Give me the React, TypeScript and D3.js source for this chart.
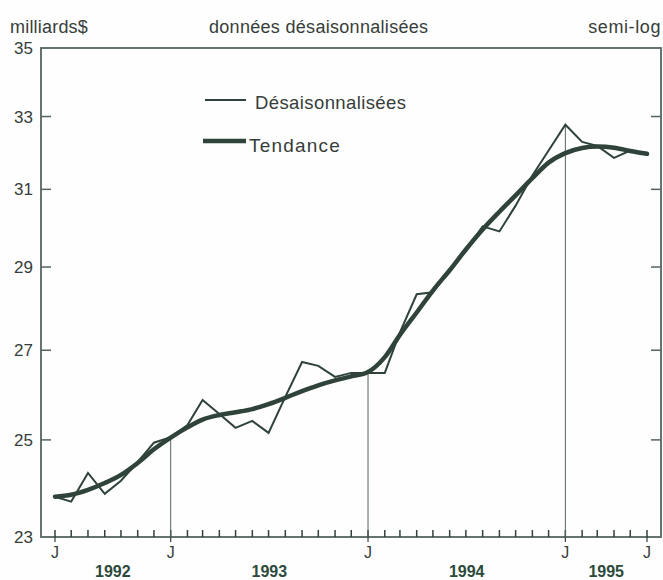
import React from "react";
import * as d3 from "d3";

// Monthly, June 1992 to June 1995
const startMonth = new Date(1992, 5, 1);
const endMonth = new Date(1995, 5, 1);
const months = d3.timeMonth.range(startMonth, d3.timeMonth.offset(endMonth, 1));

const desaisonnalisees = [
  23.81, 23.71, 24.3, 23.87, 24.14, 24.53, 24.94,
  25.06, 25.32, 25.87, 25.56, 25.26, 25.41, 25.15, 25.94, 26.73, 26.64, 26.39, 26.48,
  26.48, 26.48, 27.42, 28.33, 28.38, 28.92, 29.42, 30.03, 29.9, 30.57, 31.37, 32.05,
  32.77, 32.29, 32.18, 31.85, 32.05, 31.96,
];

const tendance = [
  23.81, 23.85, 23.95, 24.09, 24.26, 24.51, 24.8,
  25.05, 25.27, 25.44, 25.54, 25.6, 25.67, 25.78, 25.92, 26.07, 26.2, 26.31, 26.4,
  26.5, 26.84, 27.36, 27.89, 28.42, 28.92, 29.44, 29.95, 30.41, 30.84, 31.3, 31.72,
  31.98, 32.12, 32.16, 32.13, 32.04, 31.96,
];

const yTicks = [23, 25, 27, 29, 31, 33, 35];
const xLabelDates = [
  new Date(1992, 5, 1),
  new Date(1993, 0, 1),
  new Date(1994, 0, 1),
  new Date(1995, 0, 1),
  new Date(1995, 5, 1),
];
const xLabels = ["J", "J", "J", "J", "J"];
const yearSepDates = [new Date(1993, 0, 1), new Date(1994, 0, 1), new Date(1995, 0, 1)];
const years = ["1992", "1993", "1994", "1995"];
const yearSpans: [Date, Date][] = [
  [new Date(1992, 5, 1), new Date(1993, 0, 1)],
  [new Date(1993, 0, 1), new Date(1994, 0, 1)],
  [new Date(1994, 0, 1), new Date(1995, 0, 1)],
  [new Date(1995, 0, 1), new Date(1995, 5, 1)],
];

const W = 663;
const H = 580;
const left = 41;
const right = 661;
const top = 48;
const bottom = 537;

const FONT = "'Liberation Sans', Arial, Helvetica, sans-serif";
const INK = "#2f433a";
const TEXT = "#373d3a";
const FRAME = "#55655d";

export default function App() {
  const x = d3.scaleTime().domain([startMonth, endMonth]).range([55, 647]);
  const y = d3.scaleLog().domain([23, 35]).range([bottom, top]);

  const thinLine = d3
    .line<number>()
    .x((_, i) => x(months[i]))
    .y((d) => y(d))
    .curve(d3.curveLinear);
  const thickLine = d3
    .line<number>()
    .x((_, i) => x(months[i]))
    .y((d) => y(d))
    .curve(d3.curveMonotoneX);

  const valueAt = (dt: Date) => {
    const idx = months.findIndex((m) => m.getTime() === dt.getTime());
    return desaisonnalisees[idx];
  };

  return (
    <svg
      width={W}
      height={H}
      style={{ position: "absolute", left: 0, top: 0, background: "#fdfefd" }}
      fontFamily={FONT}
    >
      {/* header texts */}
      <text x={10} y={33} fontSize={18} letterSpacing={0.2} fill={TEXT}>milliards$</text>
      <text x={209} y={33} fontSize={18} letterSpacing={0.3} fill={TEXT}>données désaisonnalisées</text>
      <text x={661} y={33} fontSize={18} letterSpacing={0.6} fill={TEXT} textAnchor="end">semi-log</text>

      {/* frame */}
      <rect x={left} y={top} width={right - left} height={bottom - top} fill="none" stroke={FRAME} strokeWidth={1.8} />

      {/* y ticks and labels */}
      {yTicks.map((t) => (
        <g key={t}>
          {t !== 23 && t !== 35 && (
            <>
              <line x1={left} x2={left + 10} y1={y(t)} y2={y(t)} stroke={FRAME} strokeWidth={1.5} />
              <line x1={right - 10} x2={right} y1={y(t)} y2={y(t)} stroke={FRAME} strokeWidth={1.5} />
            </>
          )}
          <text x={33} y={y(t)} dy="0.36em" fontSize={17} fill={TEXT} textAnchor="end">{t}</text>
        </g>
      ))}

      {/* monthly ticks */}
      {months.map((m, i) => (
        <line key={i} x1={x(m)} x2={x(m)} y1={bottom} y2={bottom - 7} stroke={INK} strokeWidth={1.5} />
      ))}

      {/* labelled ticks below */}
      {xLabelDates.map((d, i) => (
        <g key={i}>
          <line x1={x(d)} x2={x(d)} y1={bottom} y2={bottom + 5} stroke={INK} strokeWidth={1.2} />
          <text x={x(d)} y={558} fontSize={16} fill={TEXT} textAnchor="middle">{xLabels[i]}</text>
        </g>
      ))}

      {/* year labels */}
      {years.map((yr, i) => (
        <text
          key={yr}
          x={(x(yearSpans[i][0]) + x(yearSpans[i][1])) / 2}
          y={577}
          fontSize={16}
          fontWeight="bold"
          fill="#2c4a3b"
          textAnchor="middle"
        >
          {yr}
        </text>
      ))}

      {/* year separators up to the data */}
      {yearSepDates.map((d, i) => (
        <line key={i} x1={x(d)} x2={x(d)} y1={bottom} y2={y(valueAt(d))} stroke={FRAME} strokeWidth={1} />
      ))}

      {/* series */}
      <path d={thinLine(desaisonnalisees) || ""} fill="none" stroke={INK} strokeWidth={2} strokeLinejoin="miter" />
      <path d={thickLine(tendance) || ""} fill="none" stroke={INK} strokeWidth={4.5} strokeLinecap="round" />

      {/* legend */}
      <line x1={205} x2={246} y1={100} y2={100} stroke={INK} strokeWidth={2} />
      <text x={255} y={109} fontSize={18.5} letterSpacing={0.4} fill={TEXT}>Désaisonnalisées</text>
      <line x1={203} x2={246} y1={141} y2={141} stroke={INK} strokeWidth={4.5} />
      <text x={249} y={152} fontSize={19} letterSpacing={1.2} fill={TEXT}>Tendance</text>
    </svg>
  );
}
